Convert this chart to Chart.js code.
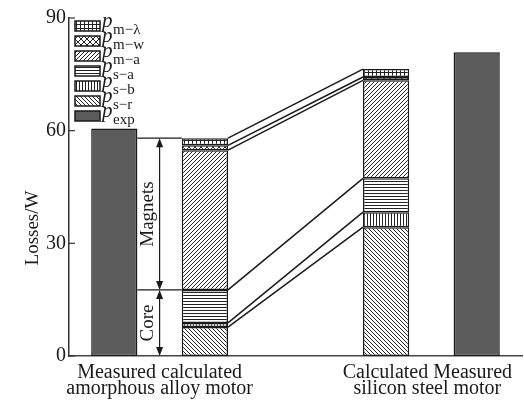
<!DOCTYPE html>
<html>
<head>
<meta charset="utf-8">
<script src="https://cdn.jsdelivr.net/npm/chart.js@4/dist/chart.umd.min.js"></script>
<style>
  html, body { margin: 0; padding: 0; background: #fff; }
  #wrap { width: 524px; height: 403px; }
</style>
</head>
<body>
<div id="wrap"><canvas id="graph"></canvas></div>
<script>
const categories = ['Measured amorphous', 'Calculated amorphous', '', 'Calculated silicon', 'Measured silicon']
const bottomLabels = [
  ['Measured calculated', 'amorphous alloy motor'],
  ['Calculated Measured', 'silicon steel motor'],
]
const yTicks = [0, 30, 60, 90]

// loss components, bottom of the stack first
const pExp = [60.6, null, null, null, 80.9]
const pSr = [null, 7.7, null, 34.3, null]
const pSb = [null, 1.1, null, 4.0, null]
const pSa = [null, 8.8, null, 9.0, null]
const pMa = [null, 37.2, null, 26.1, null]
const pMw = [null, 1.3, null, 0.9, null]
const pMl = [null, 1.9, null, 2.1, null]

const SERIF = '"Liberation Serif", "Times New Roman", serif'
const INK = '#1a1a1a'

function hatch(size, draw) {
  const c = document.createElement('canvas')
  c.width = size
  c.height = size
  const g = c.getContext('2d')
  g.fillStyle = '#fff'
  g.fillRect(0, 0, size, size)
  g.strokeStyle = '#222'
  g.lineWidth = 1
  g.beginPath()
  draw(g, size)
  g.stroke()
  return g.createPattern(c, 'repeat')
}

const slash = (g, s) => {
  g.moveTo(-1, s + 1); g.lineTo(s + 1, -1)
  g.moveTo(-1, 1); g.lineTo(1, -1)
  g.moveTo(s - 1, s + 1); g.lineTo(s + 1, s - 1)
}
const backslash = (g, s) => {
  g.moveTo(-1, -1); g.lineTo(s + 1, s + 1)
  g.moveTo(s - 1, -1); g.lineTo(s + 1, 1)
  g.moveTo(-1, s - 1); g.lineTo(1, s + 1)
}

const FILLS = {
  exp: '#5c5c5c',
  sr: hatch(4, backslash),
  sb: hatch(3, (g) => { g.moveTo(1.5, 0); g.lineTo(1.5, 3) }),
  sa: hatch(3, (g) => { g.moveTo(0, 1.5); g.lineTo(3, 1.5) }),
  ma: hatch(4, slash),
  mw: hatch(6, (g, s) => { slash(g, s); backslash(g, s) }),
  ml: hatch(4, (g) => { g.moveTo(0.5, 0); g.lineTo(0.5, 4); g.moveTo(0, 0.5); g.lineTo(4, 0.5) }),
}

const series = [
  { sub: 'exp', data: pExp, fill: FILLS.exp },
  { sub: 's\u2212r', data: pSr, fill: FILLS.sr },
  { sub: 's\u2212b', data: pSb, fill: FILLS.sb },
  { sub: 's\u2212a', data: pSa, fill: FILLS.sa },
  { sub: 'm\u2212a', data: pMa, fill: FILLS.ma },
  { sub: 'm\u2212w', data: pMw, fill: FILLS.mw },
  { sub: 'm\u2212\u03bb', data: pMl, fill: FILLS.ml },
]

function arrowHead(ctx, x, y, dir) {
  ctx.beginPath()
  ctx.moveTo(x, y)
  ctx.lineTo(x - 3.5, y + dir * 9)
  ctx.lineTo(x + 3.5, y + dir * 9)
  ctx.closePath()
  ctx.fill()
}

function doubleArrow(ctx, x, yTop, yBot) {
  ctx.beginPath()
  ctx.moveTo(x, yTop + 4)
  ctx.lineTo(x, yBot - 4)
  ctx.stroke()
  arrowHead(ctx, x, yTop, 1)
  arrowHead(ctx, x, yBot, -1)
}

const overlay = {
  id: 'overlay',
  afterDatasetsDraw(chart) {
    const ctx = chart.ctx
    const y = chart.scales.y
    const bar = (d, i) => chart.getDatasetMeta(d).data[i]
    const left = bar(1, 1)
    const right = bar(1, 3)
    const lx = left.x + left.width / 2
    const rx = right.x - right.width / 2

    ctx.save()
    ctx.strokeStyle = INK
    ctx.fillStyle = INK
    ctx.lineWidth = 1.5

    // link the stack boundaries of the two calculated bars
    let sumL = 0
    let sumR = 0
    for (let d = 1; d < series.length; d++) {
      sumL += series[d].data[1]
      sumR += series[d].data[3]
      ctx.beginPath()
      ctx.moveTo(lx, y.getPixelForValue(sumL))
      ctx.lineTo(rx, y.getPixelForValue(sumR))
      ctx.stroke()
    }

    // core / magnets brackets
    const meas = bar(0, 0)
    const mx = meas.x + meas.width / 2
    const cx = left.x - left.width / 2
    const core = pSr[1] + pSb[1] + pSa[1]
    const yCore = y.getPixelForValue(core)
    const yTop = y.getPixelForValue(sumL)
    const y0 = y.getPixelForValue(0)
    ctx.lineWidth = 1.2
    ctx.beginPath()
    ctx.moveTo(mx, yTop); ctx.lineTo(cx, yTop)
    ctx.moveTo(mx, yCore); ctx.lineTo(cx, yCore)
    ctx.stroke()
    const ax = (mx + cx) / 2
    doubleArrow(ctx, ax, yTop, yCore)
    doubleArrow(ctx, ax, yCore, y0)

    ctx.font = '19px ' + SERIF
    ctx.textAlign = 'center'
    ctx.textBaseline = 'middle'
    const label = (txt, ty) => {
      ctx.save()
      ctx.translate(ax - 12, ty)
      ctx.rotate(-Math.PI / 2)
      ctx.fillText(txt, 0, 0)
      ctx.restore()
    }
    label('Magnets', (yTop + yCore) / 2)
    label('Core', (yCore + y0) / 2)
    ctx.restore()
  },
  afterDraw(chart) {
    const ctx = chart.ctx
    const y = chart.scales.y
    const area = chart.chartArea
    ctx.save()
    ctx.strokeStyle = '#333'
    ctx.lineWidth = 1.2
    // inward tick marks
    yTicks.forEach((v) => {
      const py = y.getPixelForValue(v)
      ctx.beginPath()
      ctx.moveTo(area.left, py)
      ctx.lineTo(area.left + 6, py)
      ctx.stroke()
    })

    // legend, top entry is the top of the stack
    ctx.fillStyle = INK
    const items = series.slice().reverse()
    items.forEach((s, i) => {
      const top = 21 + i * 15
      ctx.fillStyle = s.fill
      ctx.fillRect(75, top, 25, 10)
      ctx.strokeStyle = INK
      ctx.lineWidth = 1.5
      ctx.strokeRect(75, top, 25, 10)
      ctx.fillStyle = INK
      ctx.textAlign = 'left'
      ctx.textBaseline = 'alphabetic'
      ctx.font = 'italic 21px ' + SERIF
      ctx.fillText('p', 102, top + 6)
      ctx.font = '15px ' + SERIF
      ctx.fillText(s.sub, 113, top + 13)
    })

    // y title
    ctx.font = '19px ' + SERIF
    ctx.textAlign = 'center'
    ctx.textBaseline = 'middle'
    ctx.save()
    ctx.translate(33, 228)
    ctx.rotate(-Math.PI / 2)
    ctx.fillText('Losses/W', 0, 0)
    ctx.restore()

    // category captions under each pair of bars
    const pairs = [[0, 1], [3, 4]]
    ctx.font = '20px ' + SERIF
    ctx.textBaseline = 'alphabetic'
    pairs.forEach((p, k) => {
      const x = (chart.getDatasetMeta(0).data[p[0]].x + chart.getDatasetMeta(0).data[p[1]].x) / 2 - (k ? 4 : 0)
      ctx.fillText(bottomLabels[k][0], x, area.bottom + 22)
      ctx.fillText(bottomLabels[k][1], x, area.bottom + 38)
    })
    ctx.restore()
  },
}

const ctx = document.getElementById('graph').getContext('2d')

new Chart(ctx, {
  type: 'bar',
  data: {
    labels: categories,
    datasets: series.map((s) => ({
      label: 'p ' + s.sub,
      data: s.data,
      backgroundColor: s.fill,
      borderColor: INK,
      borderWidth: 1.5,
      borderSkipped: false,
      categoryPercentage: 1,
      barPercentage: 0.51,
    })),
  },
  options: {
    responsive: true,
    maintainAspectRatio: false,
    animation: false,
    layout: { padding: { top: 18, right: 2, left: 0, bottom: 0 } },
    plugins: { legend: { display: false }, tooltip: { enabled: false } },
    scales: {
      x: {
        stacked: true,
        grid: { display: false, drawTicks: false },
        ticks: { display: false },
        border: { display: true, color: '#444', width: 1.5 },
        afterFit: (s) => { s.height = 47 },
      },
      y: {
        stacked: true,
        min: 0,
        max: 90,
        afterBuildTicks: (s) => { s.ticks = yTicks.map((v) => ({ value: v })) },
        grid: { display: false, drawTicks: false },
        border: { display: true, color: '#333', width: 1.5 },
        ticks: {
          color: INK,
          padding: 3,
          font: { family: SERIF, size: 20 },
        },
        afterFit: (s) => { s.width = 69 },
      },
    },
  },
  plugins: [overlay],
})
</script>
</body>
</html>
